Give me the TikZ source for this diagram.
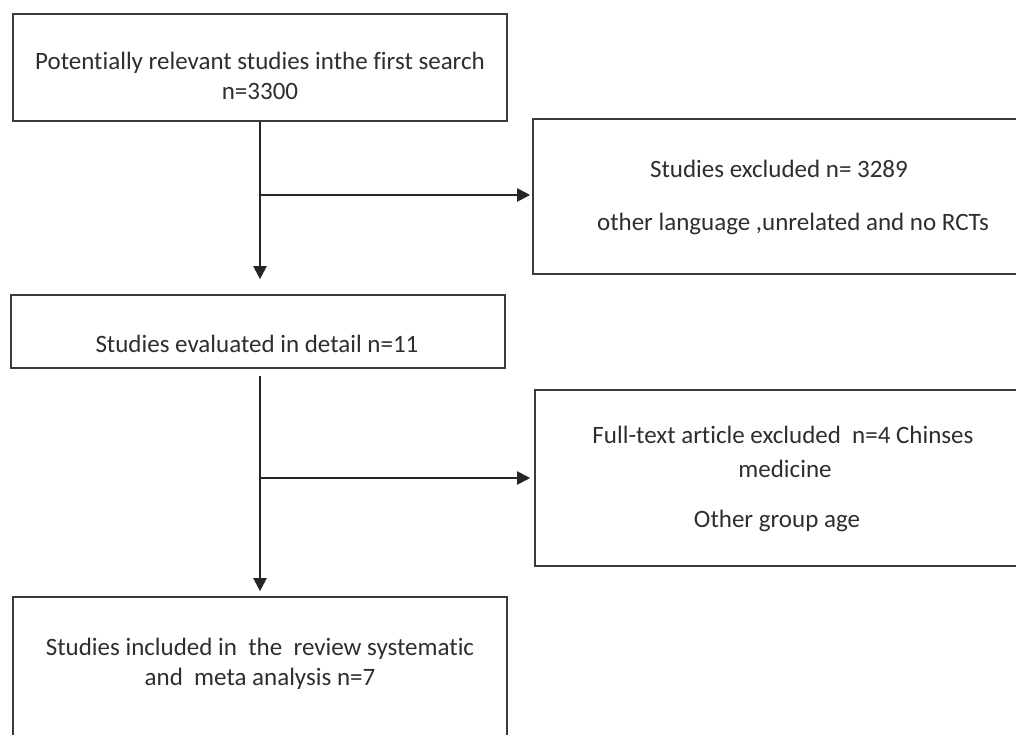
\documentclass[tikz,border=0pt]{standalone}
\usepackage{fontspec}
\setmainfont[Ligatures={NoCommon}]{Carlito}
\usetikzlibrary{arrows.meta}
\definecolor{boxline}{HTML}{3A3A3A}
\definecolor{txt}{HTML}{2E2E2E}
\begin{document}
\begin{tikzpicture}[x=1pt,y=-1pt,
  box/.style={draw=boxline,line width=1.6pt,minimum width=#1,inner sep=0pt},
  lbl/.style={text=txt,font=\fontsize{25}{30}\selectfont,anchor=base,inner sep=0pt},
  conn/.style={draw=black!85,line width=2pt},
  arr/.style={conn,-{Triangle[length=13pt,width=13pt]}}]
\useasboundingbox (0,0) rectangle (1016,735);
\clip (0,0) rectangle (1016,735);
% boxes
\node[box=494pt,minimum height=107pt] (b1) at (260,67.5) {};
\node[box=489pt,minimum height=155pt] (b2) at (777.5,196.5) {};
\node[box=494pt,minimum height=73pt] (b3) at (258,331.5) {};
\node[box=487pt,minimum height=176pt] (b4) at (778.5,478) {};
\node[box=494pt,minimum height=150pt] (b5) at (260,672) {};
% texts
\node[lbl] (t1a) at (260,70) {Potentially relevant studies inthe first search};
\node[lbl] (t1b) at (260,100) {n=3300};
\node[lbl] (t2a) at (779,178) {Studies excluded n= 3289};
\node[lbl] (t2b) at (793,231) {other language ,unrelated and no RCTs};
\node[lbl] (t3) at (257,352) {Studies evaluated in detail n=11};
\node[lbl] (t4a) at (783,443) {Full-text article excluded\ \ n=4 Chinses};
\node[lbl] (t4b) at (785,477) {medicine};
\node[lbl] (t4c) at (777,527) {Other group age};
\node[lbl] (t5a) at (260,655) {Studies included in\ \ the\ \ review systematic};
\node[lbl] (t5b) at (260,685) {and\ \ meta analysis n=7};
% connectors
\coordinate (j1) at (260,195);
\coordinate (j2) at (260,478);
\draw[arr,shorten >=15pt] (b1.south -| j1) -- (b3.north -| j1);
\draw[arr,shorten >=2pt] (j1) -- (j1 -| b2.west);
\draw[arr,shorten <=7pt,shorten >=5pt] (b3.south -| j1) -- (b5.north -| j1);
\draw[arr,shorten >=4pt] (j2) -- (j2 -| b4.west);
\end{tikzpicture}
\end{document}
